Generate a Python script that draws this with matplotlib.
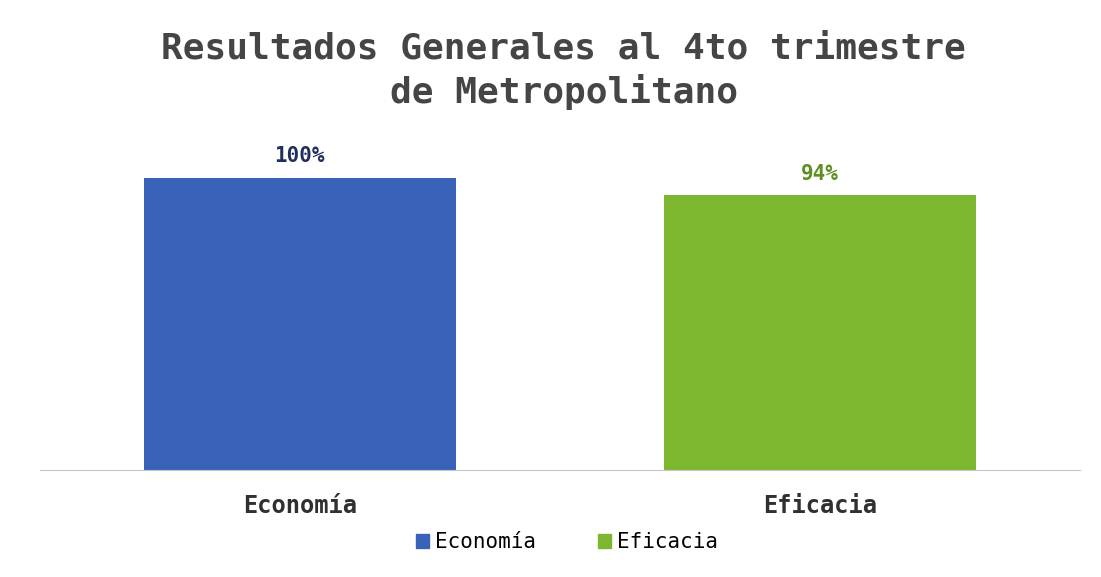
import matplotlib.pyplot as plt
from matplotlib.patches import Patch

categorias = ['Economía', 'Eficacia']
valores = [100, 94]
etiquetas = ['100%', '94%']
colores = ['#3862b8', '#7db72f']
colores_texto = ['#1f2f5e', '#5f8f22']

plt.rcParams['font.family'] = 'DejaVu Sans Mono'

fig = plt.figure(figsize=(11.01, 5.77), dpi=100)
ax = fig.add_axes([0.036, 0.185, 0.945, 0.59])

x = range(len(categorias))
barras = ax.bar(x, valores, width=0.6, color=colores, zorder=2)
for b, et, c in zip(barras, etiquetas, colores_texto):
    ax.text(b.get_x() + b.get_width() / 2, b.get_height() + 4, et,
            ha='center', va='bottom', fontsize=15, fontweight='bold', color=c)

ax.set_xlim(-0.5, 1.5)
ax.set_ylim(0, 116.4)
ax.set_yticks([])
ax.set_xticks(list(x))
ax.set_xticklabels(categorias, fontsize=17, fontweight='bold', color='#303030')
ax.tick_params(axis='x', length=0, pad=17)
for s in ['top', 'right', 'left']:
    ax.spines[s].set_visible(False)
ax.spines['bottom'].set_color('#c8c8c8')

fig.suptitle('Resultados Generales al 4to trimestre\nde Metropolitano',
             x=0.512, y=0.945, fontsize=26, fontweight='bold', color='#454545',
             linespacing=1.3)

handles = [Patch(color=c, label=n) for c, n in zip(colores, categorias)]
fig.legend(handles=handles, loc='center', bbox_to_anchor=(0.515, 0.06), ncol=2,
           frameon=False, fontsize=15, handlelength=0.6, handleheight=0.6,
           handletextpad=0.3, columnspacing=3.0)

fig.savefig('out.png', dpi=100)
